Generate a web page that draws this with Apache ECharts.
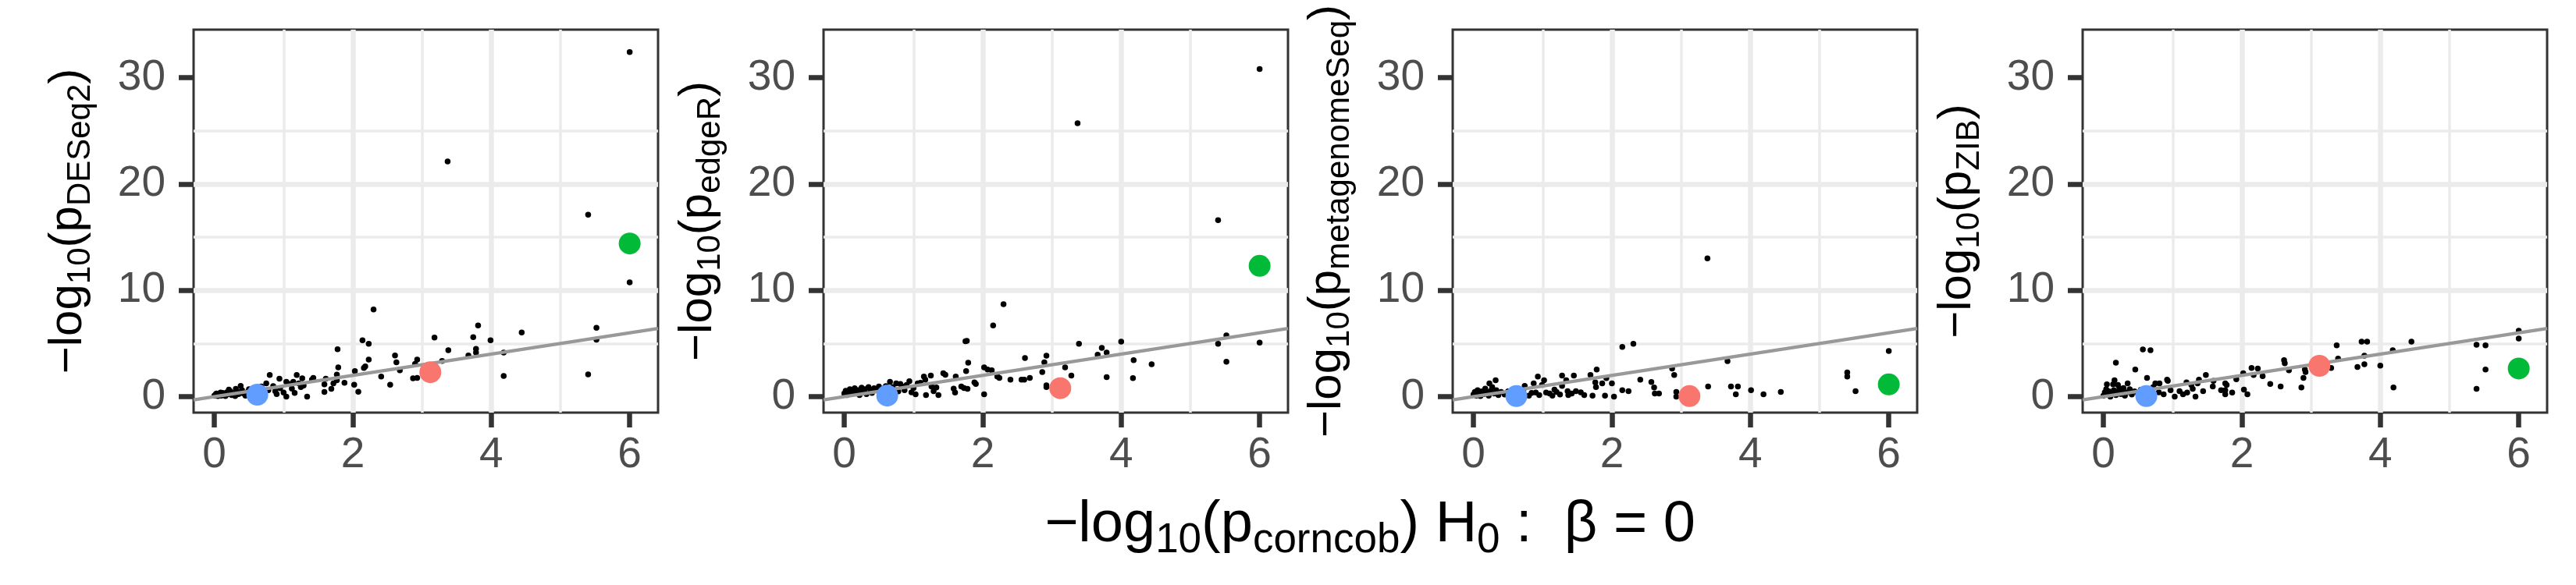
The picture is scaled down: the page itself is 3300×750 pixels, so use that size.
<!DOCTYPE html>
<html>
<head>
<meta charset="utf-8">
<script src="https://cdn.jsdelivr.net/npm/echarts@6/dist/echarts.min.js"></script>
<style>
  html, body { margin: 0; padding: 0; background: #fff; }
  #main { width: 3300px; height: 750px; }
</style>
</head>
<body>
<div id="main"></div>
<script>
// axis ranges and ticks (shared by all four panels)
var xRange = [-0.3, 6.41];
var yRange = [-1.5, 34.5];
var xTicks = [0, 2, 4, 6];
var yTicks = [0, 10, 20, 30];
// reference line y = x, drawn across the whole x range
var refLineX = [-0.3, 6.41];

var methods = ['DESeq2', 'edgeR', 'metagenomeSeq', 'ZIB'];

// highlighted taxa: x is the corncob value, y per method
var highlightX = [0.62, 3.12, 6.0];
var highlightY = {
    DESeq2: [0.18, 2.3, 14.4],
    edgeR: [0.1, 0.8, 12.3],
    metagenomeSeq: [0.05, 0.05, 1.15],
    ZIB: [0.05, 2.9, 2.65]
};

// black points, [x, y]
var dotsDESeq2 = [
    [6.0, 32.4], [3.37, 22.1], [5.4, 17.1], [6.0, 10.75], [2.3, 8.2], [3.81, 6.7], [5.52, 6.47], [4.44, 6.04],
    [3.74, 5.6], [3.18, 5.55], [3.99, 5.3], [2.14, 5.3], [2.23, 4.97], [5.52, 5.35], [3.78, 4.5], [3.78, 4.15],
    [3.38, 4.36], [1.78, 4.45], [4.18, 4.15], [3.67, 3.87], [2.61, 3.87], [2.23, 3.49], [2.63, 3.23], [2.93, 3.49],
    [3.29, 3.35], [1.79, 2.76], [2.18, 2.85], [2.16, 2.7], [2.03, 2.41], [2.68, 2.47], [2.9, 3.08], [2.87, 1.72],
    [2.93, 1.77], [2.41, 1.89], [4.18, 1.95], [5.4, 2.1], [2.54, 1.13], [2.02, 1.13], [2.08, 0.47], [1.77, 2.07],
    [1.77, 1.54], [1.72, 1.25], [1.59, 1.16], [1.59, 0.44], [1.69, 0.73], [1.88, 1.31], [1.61, 1.69], [1.43, 1.77],
    [1.41, 1.6], [1.27, 1.72], [1.19, 2.04], [1.29, 1.05], [1.34, 0.0], [1.12, 0.76], [1.04, 0.0], [0.94, 1.69],
    [0.8, 2.04], [0.75, 1.25], [0.88, 0.52], [1.0, 0.38], [1.04, 1.4], [1.14, 1.4], [1.22, 1.25], [0.38, 1.02],
    [0.31, 0.73], [0.21, 0.67], [0.09, 0.38], [0.02, 0.23], [0.0, 0.1], [0.03, 0.3], [0.05, 0.05], [0.08, 0.2],
    [0.1, 0.1], [0.12, 0.35], [0.14, 0.2], [0.16, 0.05], [0.18, 0.4], [0.2, 0.25], [0.23, 0.5], [0.25, 0.15],
    [0.28, 0.35], [0.3, 0.05], [0.33, 0.5], [0.35, 0.25], [0.4, 0.6], [0.42, 0.3], [0.45, 0.1], [0.48, 0.45],
    [0.5, 0.7], [0.53, 0.3], [0.56, 0.55], [0.6, 0.8], [0.65, 0.5], [0.68, 0.95], [0.72, 0.3], [0.78, 0.6],
    [0.85, 1.0], [0.9, 0.25], [0.95, 0.8], [1.08, 1.2], [1.16, 0.35], [1.25, 0.9]
];
var dotsEdgeR = [
    [6.0, 30.8], [3.37, 25.7], [5.4, 16.6], [2.3, 8.7], [2.15, 6.7], [1.75, 5.2], [1.77, 5.25], [4.0, 5.17],
    [3.39, 4.97], [5.4, 4.97], [5.52, 5.75], [6.0, 5.08], [3.72, 4.59], [3.79, 4.15], [3.66, 3.95], [2.92, 3.86],
    [2.61, 3.63], [4.18, 3.43], [1.79, 3.2], [2.89, 3.22], [4.44, 3.05], [5.52, 3.28], [3.19, 2.76], [2.02, 2.76],
    [2.13, 2.47], [2.07, 2.56], [1.76, 2.41], [2.86, 2.32], [3.28, 1.98], [3.79, 1.83], [4.17, 1.74], [2.21, 1.89],
    [2.24, 1.77], [2.4, 1.6], [2.56, 1.6], [2.68, 1.77], [2.6, 1.6], [2.92, 1.07], [2.92, 0.9], [1.88, 1.34],
    [1.9, 1.19], [1.73, 0.81], [1.78, 0.73], [1.69, 0.96], [1.58, 0.76], [1.6, 0.38], [2.02, 0.23], [1.61, 1.89],
    [1.43, 2.21], [1.46, 2.06], [1.25, 1.98], [1.15, 1.89], [1.17, 1.6], [1.26, 0.96], [1.29, 0.52], [1.18, 0.15],
    [1.36, 0.15], [1.33, 0.87], [1.03, 0.23], [1.0, 0.81], [1.06, 1.25], [0.87, 0.61], [0.9, 1.1], [0.81, 1.19],
    [0.94, 1.45], [0.75, 1.25], [0.66, 1.39], [0.0, 0.3], [0.02, 0.55], [0.04, 0.15], [0.06, 0.4], [0.08, 0.7],
    [0.1, 0.25], [0.12, 0.5], [0.15, 0.8], [0.17, 0.35], [0.2, 0.6], [0.22, 0.15], [0.25, 0.85], [0.27, 0.45],
    [0.3, 0.7], [0.32, 0.25], [0.35, 0.9], [0.38, 0.55], [0.4, 0.35], [0.43, 0.8], [0.46, 0.6], [0.5, 0.95],
    [0.53, 0.45], [0.56, 0.75], [0.6, 1.0], [0.7, 0.9], [0.78, 0.5], [0.84, 0.95], [0.97, 0.4], [1.1, 1.3]
];
var dotsMetagenomeSeq = [
    [3.38, 13.0], [2.31, 4.97], [2.15, 4.68], [6.0, 4.3], [3.67, 3.34], [5.4, 2.27], [5.4, 1.89], [2.87, 2.64],
    [2.9, 2.03], [1.78, 2.56], [1.69, 2.03], [1.45, 1.98], [1.28, 1.98], [0.93, 1.89], [2.41, 1.6], [2.57, 1.37],
    [2.0, 1.25], [1.92, 1.74], [1.86, 1.25], [1.76, 1.34], [1.77, 0.9], [3.39, 0.96], [3.72, 0.96], [3.82, 0.96],
    [3.79, 0.23], [4.01, 0.61], [4.19, 0.23], [4.44, 0.44], [5.52, 0.52], [2.93, 0.44], [2.93, 0.0], [2.61, 0.87],
    [2.62, 0.29], [2.68, 0.29], [2.15, 0.61], [2.24, 0.52], [2.03, 0.0], [1.9, 0.09], [1.72, 0.09], [1.6, 0.15],
    [1.48, 0.52], [1.36, 0.52], [1.37, 0.15], [1.28, 1.02], [1.34, 1.54], [0.99, 1.1], [1.05, 0.38], [1.17, 0.67],
    [1.02, 1.54], [0.87, 1.25], [0.9, 0.38], [0.74, 1.02], [0.32, 1.54], [0.23, 1.25], [0.0, 0.2], [0.02, 0.45],
    [0.04, 0.1], [0.06, 0.6], [0.08, 0.3], [0.1, 0.05], [0.12, 0.5], [0.15, 0.25], [0.17, 0.75], [0.2, 0.4],
    [0.22, 0.1], [0.25, 0.55], [0.27, 0.9], [0.3, 0.3], [0.33, 0.6], [0.36, 0.15], [0.4, 0.45], [0.45, 0.2],
    [0.5, 0.5], [0.55, 0.1], [0.62, 0.4], [0.68, 0.2], [0.72, 0.55], [0.8, 0.1], [0.84, 0.35], [0.95, 0.15],
    [1.1, 0.3], [1.14, 0.1], [1.2, 0.45], [1.25, 0.2], [1.42, 0.3], [1.55, 0.4]
];
var dotsZIB = [
    [6.0, 6.19], [6.0, 5.46], [3.73, 5.17], [3.81, 5.17], [4.45, 5.17], [5.39, 4.88], [5.52, 4.82], [3.37, 4.82],
    [0.57, 4.44], [0.68, 4.36], [4.18, 4.36], [3.77, 3.86], [3.39, 3.57], [2.61, 3.43], [2.62, 3.14], [0.18, 3.2],
    [3.77, 3.05], [3.67, 2.79], [4.0, 2.91], [3.29, 2.7], [2.91, 2.56], [2.92, 2.32], [5.52, 2.56], [2.14, 2.7],
    [2.23, 2.64], [2.17, 2.03], [2.3, 1.92], [2.68, 2.47], [2.89, 1.77], [0.46, 2.56], [1.48, 2.03], [2.02, 2.21],
    [1.92, 1.63], [2.41, 1.19], [2.56, 0.96], [2.86, 0.87], [4.19, 0.87], [5.39, 0.73], [2.03, 0.67], [2.08, 0.23],
    [1.86, 0.38], [1.76, 0.23], [1.78, 1.1], [1.76, 0.61], [1.7, 0.61], [1.58, 0.96], [1.44, 0.52], [1.33, 0.0],
    [1.29, 0.73], [1.21, 0.38], [1.15, 0.23], [1.03, 0.0], [1.1, 0.52], [0.87, 0.23], [0.97, 0.61], [0.93, 1.48],
    [0.81, 1.25], [0.75, 1.25], [0.63, 1.77], [0.92, 1.6], [1.2, 1.34], [1.27, 1.1], [1.36, 1.25], [1.38, 1.6],
    [1.59, 1.48], [1.76, 1.25], [0.16, 1.54], [0.14, 1.16], [0.05, 1.16], [0.21, 1.1], [0.35, 1.25], [0.29, 0.81],
    [0.0, 0.1], [0.02, 0.4], [0.04, 0.7], [0.06, 0.2], [0.08, 0.5], [0.1, 0.0], [0.12, 0.3], [0.15, 0.6],
    [0.18, 0.15], [0.2, 0.45], [0.23, 0.8], [0.25, 0.25], [0.28, 0.55], [0.31, 0.1], [0.34, 0.4], [0.38, 0.7],
    [0.41, 0.2], [0.45, 0.5], [0.5, 0.3], [0.54, 0.65], [0.58, 0.2], [0.66, 0.45], [0.72, 0.9], [0.8, 0.4]
];
var dotsByMethod = {
    DESeq2: dotsDESeq2,
    edgeR: dotsEdgeR,
    metagenomeSeq: dotsMetagenomeSeq,
    ZIB: dotsZIB
};

var highlightColors = ['#619CFF', '#F8766D', '#00BA38'];
var gridLeft = [248, 1055, 1861, 2668];
var FONT = 'Liberation Sans, Arial, Helvetica, sans-serif';

function richStyles(big, small, lift) {
    return {
        m: {fontSize: big, lineHeight: big, fontFamily: FONT, color: '#000', verticalAlign: 'bottom', padding: [0, 0, lift, 0]},
        s: {fontSize: small, lineHeight: small, fontFamily: FONT, color: '#000', verticalAlign: 'bottom'}
    };
}

var grids = [], xAxes = [], yAxes = [], series = [];
for (var i = 0; i < methods.length; i++) {
    var m = methods[i];
    grids.push({
        left: gridLeft[i], top: 38, width: 595, height: 491,
        show: true, borderColor: '#333333', borderWidth: 3, backgroundColor: '#fff',
        containLabel: false, outerBoundsMode: 'none'
    });
    xAxes.push({
        gridIndex: i, type: 'value', min: xRange[0], max: xRange[1], splitNumber: 3,
        axisLine: {show: false, onZero: false},
        axisTick: {show: true, length: 19, customValues: xTicks, lineStyle: {color: '#333333', width: 6.5}},
        axisLabel: {customValues: xTicks, margin: 27, fontSize: 55, fontFamily: FONT, color: '#4D4D4D'},
        splitLine: {show: true, showMinLine: false, showMaxLine: false, lineStyle: {color: '#EBEBEB', width: 6.5}},
        minorTick: {show: false, splitNumber: 2},
        minorSplitLine: {show: true, lineStyle: {color: '#EBEBEB', width: 3.5}}
    });
    yAxes.push({
        gridIndex: i, type: 'value', min: yRange[0], max: yRange[1], splitNumber: 4,
        axisLine: {show: false, onZero: false},
        axisTick: {show: true, length: 19, customValues: yTicks, lineStyle: {color: '#333333', width: 6.5}},
        axisLabel: {customValues: yTicks, margin: 36, fontSize: 55, fontFamily: FONT, color: '#4D4D4D'},
        splitLine: {show: true, showMinLine: false, showMaxLine: false, lineStyle: {color: '#EBEBEB', width: 6.5}},
        minorTick: {show: false, splitNumber: 2},
        minorSplitLine: {show: true, lineStyle: {color: '#EBEBEB', width: 3.5}},
        name: '{m|\u2212log}{s|10}{m|(p}{s|' + m + '}{m|)}',
        nameLocation: 'middle', nameRotate: 90, nameGap: 124,
        nameTextStyle: {rich: richStyles(60, 42, 7)}
    });
    series.push({
        type: 'scatter', xAxisIndex: i, yAxisIndex: i, symbolSize: 7.5,
        itemStyle: {color: '#000', opacity: 1}, data: dotsByMethod[m], silent: true, z: 2
    });
    series.push({
        type: 'line', xAxisIndex: i, yAxisIndex: i, showSymbol: false, silent: true, z: 3,
        lineStyle: {color: '#999999', width: 4.5},
        data: refLineX.map(function (v) { return [v, v]; })
    });
    series.push({
        type: 'scatter', xAxisIndex: i, yAxisIndex: i, symbolSize: 28, silent: true, z: 4,
        data: highlightX.map(function (x, k) {
            return {value: [x, highlightY[m][k]], itemStyle: {color: highlightColors[k], opacity: 1}};
        })
    });
}

var chart = echarts.init(document.getElementById('main'), null, {renderer: 'canvas'});
chart.setOption({
    animation: false,
    backgroundColor: '#fff',
    grid: grids,
    xAxis: xAxes,
    yAxis: yAxes,
    series: series,
    graphic: [{
        type: 'text', x: 1755, y: 683,
        style: {
            text: '{m|\u2212log}{s|10}{m|(p}{s|corncob}{m|) H}{s|0}{m| :  \u03b2 = 0}',
            rich: richStyles(74, 53, 9),
            align: 'center', verticalAlign: 'middle'
        }
    }]
});
</script>
</body>
</html>
